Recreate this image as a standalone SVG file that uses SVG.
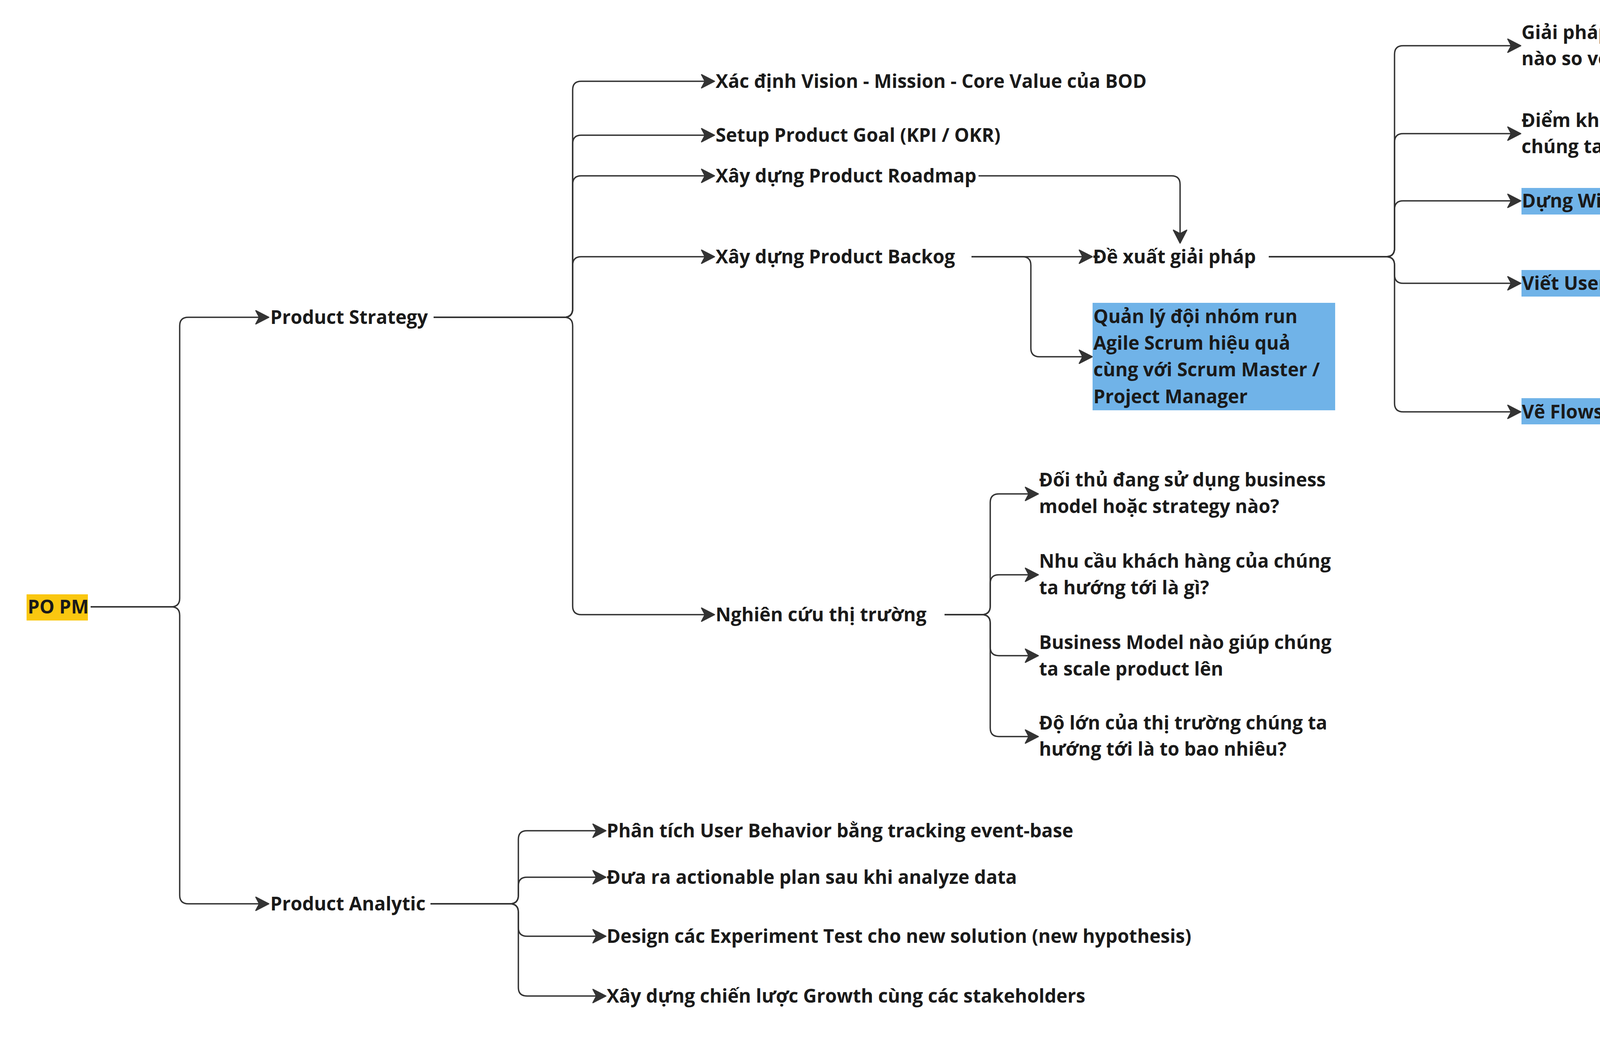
<svg xmlns="http://www.w3.org/2000/svg" width="5829" height="2659" viewBox="0 0 5829 2659">
<style>
.t{font-family:"Open Sans","Noto Sans","Liberation Sans",sans-serif;font-weight:700;font-size:48px;fill:#1a1a1a}
.s{font-family:"Open Sans","Noto Sans","Liberation Sans",sans-serif;font-weight:400;font-size:25px;fill:#1f1f1f;text-anchor:middle}
.s2{font-family:"Open Sans","Noto Sans","Liberation Sans",sans-serif;font-weight:400;font-size:22px;fill:#1f1f1f;text-anchor:middle}
.c{fill:none;stroke:#333333;stroke-width:3.5;marker-end:url(#ah)}
.blue{fill:#70B3E8}
.green{fill:#D5F694}
.orange{fill:#FF9D48}
.sh{fill:#000;opacity:0.45;filter:url(#blur)}
</style>
<defs>
<marker id="ah" viewBox="-38 -20 40 40" refX="0" refY="0" markerWidth="40" markerHeight="40" markerUnits="userSpaceOnUse" orient="auto">
<path d="M0,0 L-33,-17 L-24,0 L-33,17 Z" fill="#333333" stroke="#333333" stroke-width="3" stroke-linejoin="round"/>
</marker>
<filter id="blur" x="-20%" y="-100%" width="140%" height="300%"><feGaussianBlur stdDeviation="9"/></filter>
</defs>
<rect width="5829" height="2659" fill="#ffffff"/>

<g id="connectors">
<path class="c" d="M232 1553 H438 Q460 1553 460 1531 V834 Q460 812 482 812 H688"/>
<path class="c" d="M232 1553 H438 Q460 1553 460 1575 V2291 Q460 2313 482 2313 H688"/>

<path class="c" d="M1110 812 H1444 Q1466 812 1466 790 V230 Q1466 208 1488 208 H1829"/>
<path class="c" d="M1110 812 H1444 Q1466 812 1466 790 V368 Q1466 346 1488 346 H1829"/>
<path class="c" d="M1110 812 H1444 Q1466 812 1466 790 V472 Q1466 450 1488 450 H1829"/>
<path class="c" d="M1110 812 H1444 Q1466 812 1466 790 V679 Q1466 657 1488 657 H1829"/>
<path class="c" d="M1110 812 H1444 Q1466 812 1466 834 V1551 Q1466 1573 1488 1573 H1829"/>

<path class="c" d="M2505 450 H2999 Q3021 450 3021 472 V622"/>
<path class="c" d="M2487 657 H2796"/>
<path class="c" d="M2487 657 H2617 Q2639 657 2639 679 V891 Q2639 913 2661 913 H2796"/>

<path class="c" d="M3248 657 H3548 Q3570 657 3570 635 V139 Q3570 117 3592 117 H3893"/>
<path class="c" d="M3248 657 H3548 Q3570 657 3570 635 V364 Q3570 342 3592 342 H3893"/>
<path class="c" d="M3248 657 H3548 Q3570 657 3570 635 V536 Q3570 514 3592 514 H3893"/>
<path class="c" d="M3248 657 H3548 Q3570 657 3570 679 V703 Q3570 725 3592 725 H3893"/>
<path class="c" d="M3248 657 H3548 Q3570 657 3570 679 V1032 Q3570 1054 3592 1054 H3893"/>

<path class="c" d="M4567 514 H4780"/>
<path class="c" d="M5218 514 H5349"/>
<path class="c" d="M4170 1054 H4448"/>

<path class="c" d="M2418 1573 H2513 Q2535 1573 2535 1551 V1286 Q2535 1264 2557 1264 H2658"/>
<path class="c" d="M2418 1573 H2513 Q2535 1573 2535 1551 V1493 Q2535 1471 2557 1471 H2658"/>
<path class="c" d="M2418 1573 H2513 Q2535 1573 2535 1595 V1656 Q2535 1678 2557 1678 H2658"/>
<path class="c" d="M2418 1573 H2513 Q2535 1573 2535 1595 V1863 Q2535 1885 2557 1885 H2658"/>

<path class="c" d="M1102 2313 H1305 Q1327 2313 1327 2291 V2148 Q1327 2126 1349 2126 H1551"/>
<path class="c" d="M1102 2313 H1305 Q1327 2313 1327 2291 V2267 Q1327 2245 1349 2245 H1551"/>
<path class="c" d="M1102 2313 H1305 Q1327 2313 1327 2335 V2374 Q1327 2396 1349 2396 H1551"/>
<path class="c" d="M1102 2313 H1305 Q1327 2313 1327 2335 V2527 Q1327 2549 1349 2549 H1551"/>
</g>

<g id="po-pm">
<rect x="68" y="1521" width="157" height="67" fill="#FAC710"/>
<text class="t" x="71" y="1570">PO PM</text>
</g>

<g id="product-strategy"><text class="t" x="692" y="829">Product Strategy</text></g>
<g id="product-analytic"><text class="t" x="692" y="2330">Product Analytic</text></g>

<g id="vision"><text class="t" x="1832" y="225">Xác định Vision - Mission - Core Value của BOD</text></g>
<g id="goal"><text class="t" x="1832" y="363">Setup Product Goal (KPI / OKR)</text></g>
<g id="roadmap"><text class="t" x="1832" y="467">Xây dựng Product Roadmap</text></g>
<g id="backlog"><text class="t" x="1832" y="674">Xây dựng Product Backog</text></g>
<g id="research"><text class="t" x="1832" y="1590">Nghiên cứu thị trường</text></g>

<g id="de-xuat"><text class="t" x="2798" y="674">Đề xuất giải pháp</text></g>
<g id="quan-ly">
<rect class="blue" x="2797" y="775" width="621" height="275"/>
<text class="t" x="2799" y="827">Quản lý đội nhóm run</text>
<text class="t" x="2799" y="895">Agile Scrum hiệu quả</text>
<text class="t" x="2799" y="963">cùng với Scrum Master /</text>
<text class="t" x="2799" y="1032">Project Manager</text>
</g>

<g id="giai-phap">
<text class="t" x="3895" y="100">Giải pháp đấy khác biệt như thế</text>
<text class="t" x="3895" y="167">nào so với đối thủ thị trường</text>
</g>
<g id="diem-kho">
<text class="t" x="3895" y="325">Điểm khó copy của sản phẩm</text>
<text class="t" x="3895" y="392">chúng ta là gì?</text>
</g>
<g id="wireframe">
<rect class="blue" x="3895" y="481" width="672" height="68"/>
<text class="t" x="3896" y="531">Dựng Wireframe / Mockup</text>
</g>
<g id="user-story">
<rect class="blue" x="3895" y="691" width="405" height="68"/>
<text class="t" x="3896" y="742">Viết User Story</text>
</g>
<g id="flows">
<rect class="blue" x="3895" y="1019" width="275" height="67"/>
<text class="t" x="3896" y="1071">Vẽ Flows</text>
</g>
<g id="manage">
<text class="t" x="4450" y="998">Manage và align User Flow và</text>
<text class="t" x="4450" y="1066">Business Flow cùng với ITBA; UI</text>
<text class="t" x="4450" y="1133">UX và các Stakeholder</text>
</g>

<g id="note-user-story">
<rect class="sh" x="4325" y="858" width="395" height="26"/>
<rect class="green" x="4300" y="643" width="429" height="235"/>
<text class="s" x="4514" y="695">Thông thường User Story của PO</text>
<text class="s" x="4514" y="730">PM viết sẽ mang tính chất</text>
<text class="s" x="4514" y="766">overview hơn ITBA. ITBA sẽ đi</text>
<text class="s" x="4514" y="801">sâu vào logic và nghiệp vụ của</text>
<text class="s" x="4514" y="837">từng Use Case trong User Story</text>
</g>

<g id="note-wireframe">
<rect class="sh" x="4808" y="597" width="397" height="26"/>
<rect class="green" x="4783" y="384" width="430" height="233"/>
<text class="s" x="4998" y="433">Wireframe / Mockup sẽ overview</text>
<text class="s" x="4998" y="468">và không quá detail cover các</text>
<text class="s" x="4998" y="504">use case hoặc exceptional flow</text>
<text class="s" x="4998" y="539">trong user flow. Thường việc đấy</text>
<text class="s" x="4998" y="574">ITBA sẽ là người tư vấn và hỗ trợ</text>
</g>

<g id="note-orange">
<rect class="sh" x="5377" y="598" width="400" height="26"/>
<rect class="orange" x="5352" y="384" width="433" height="234"/>
<text class="s2" x="5568" y="442">Thật ra mình thấy nhiều ông PO PM</text>
<text class="s2" x="5568" y="473">lười đoạn này nên quăng luôn cho</text>
<text class="s2" x="5568" y="504">ITBA hoặc UI UX làm. Nhưng có 1 số</text>
<text class="s2" x="5568" y="536">màn hình sẽ cần PO PM chốt nhanh</text>
<text class="s2" x="5568" y="567">với BOD và Stakeholders sẽ tốt hơn</text>
</g>

<g id="doi-thu">
<text class="t" x="2660" y="1245">Đối thủ đang sử dụng business</text>
<text class="t" x="2660" y="1313">model hoặc strategy nào?</text>
</g>
<g id="nhu-cau">
<text class="t" x="2660" y="1453">Nhu cầu khách hàng của chúng</text>
<text class="t" x="2660" y="1521">ta hướng tới là gì?</text>
</g>
<g id="business-model">
<text class="t" x="2660" y="1661">Business Model nào giúp chúng</text>
<text class="t" x="2660" y="1729">ta scale product lên</text>
</g>
<g id="do-lon">
<text class="t" x="2660" y="1867">Độ lớn của thị trường chúng ta</text>
<text class="t" x="2660" y="1934">hướng tới là to bao nhiêu?</text>
</g>

<g id="phan-tich"><text class="t" x="1553" y="2143">Phân tích User Behavior bằng tracking event-base</text></g>
<g id="dua-ra"><text class="t" x="1553" y="2262">Đưa ra actionable plan sau khi analyze data</text></g>
<g id="design"><text class="t" x="1553" y="2413">Design các Experiment Test cho new solution (new hypothesis)</text></g>
<g id="growth"><text class="t" x="1553" y="2566">Xây dựng chiến lược Growth cùng các stakeholders</text></g>
</svg>
